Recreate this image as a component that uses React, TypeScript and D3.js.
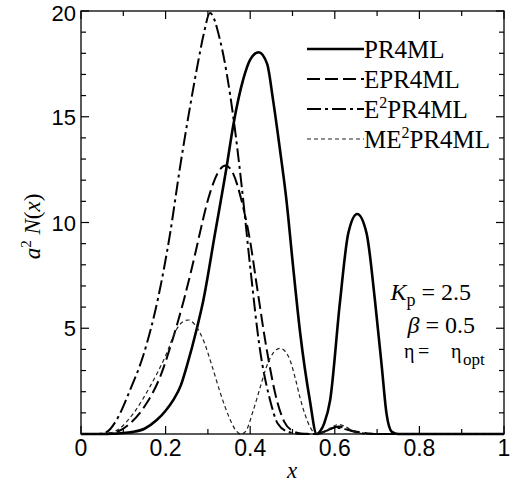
import React from 'react';
import * as d3 from 'd3';

// ---- data ----
const pr4X = [0, 0.05, 0.1, 0.124, 0.15, 0.179, 0.2, 0.218, 0.236, 0.25, 0.274, 0.289, 0.317, 0.344, 0.36, 0.384, 0.4, 0.42, 0.44, 0.454, 0.47, 0.486, 0.5, 0.518, 0.541, 0.557, 0.565, 0.575, 0.589, 0.612, 0.632, 0.653, 0.675, 0.695, 0.711, 0.722, 0.735, 0.75, 1];
const pr4Y = [0, 0, 0.05, 0.1, 0.25, 0.66, 1.1, 1.6, 2.3, 3.2, 5.0, 6.3, 9.5, 12.6, 14.6, 16.8, 17.7, 18.05, 17.5, 15.8, 13.5, 11.0, 8.2, 4.8, 1.6, 0, 0.12, 0.5, 1.6, 6.2, 9.5, 10.4, 9.5, 6.3, 3.2, 1.0, 0.1, 0, 0];

const epr4X = [0, 0.05, 0.084, 0.116, 0.155, 0.187, 0.214, 0.244, 0.272, 0.281, 0.305, 0.325, 0.342, 0.36, 0.38, 0.4, 0.415, 0.439, 0.463, 0.48, 0.5, 0.52, 0.56, 0.585, 0.61, 0.64, 0.67, 0.7, 1];
const epr4Y = [0, 0, 0.1, 0.5, 1.45, 2.7, 4.3, 6.4, 8.7, 9.5, 11.4, 12.4, 12.7, 12.3, 11.0, 9.1, 7.1, 4.0, 1.6, 0.6, 0.15, 0.02, 0, 0.2, 0.35, 0.15, 0.05, 0, 0];

const e2pr4X = [0, 0.04, 0.061, 0.084, 0.116, 0.147, 0.183, 0.21, 0.234, 0.258, 0.277, 0.29, 0.305, 0.329, 0.36, 0.38, 0.4, 0.423, 0.447, 0.465, 0.49, 0.52, 0.55, 0.58, 0.6, 0.63, 0.66, 0.7, 1];
const e2pr4Y = [0, 0, 0.1, 0.66, 2.08, 3.7, 6.5, 9.4, 12.6, 15.5, 17.6, 18.9, 19.9, 18.6, 15.0, 11.7, 7.9, 4.0, 1.6, 0.5, 0.1, 0, 0, 0.15, 0.3, 0.2, 0.05, 0, 0];

const me2pr4X = [0, 0.05, 0.07, 0.092, 0.124, 0.163, 0.2, 0.226, 0.24, 0.254, 0.27, 0.29, 0.31, 0.33, 0.35, 0.365, 0.378, 0.39, 0.407, 0.425, 0.439, 0.455, 0.47, 0.483, 0.494, 0.507, 0.518, 0.53, 0.541, 0.557, 0.575, 0.595, 0.61, 0.625, 0.645, 0.665, 0.68, 1];
const me2pr4Y = [0, 0, 0.05, 0.27, 0.98, 2.24, 3.7, 4.95, 5.3, 5.39, 5.15, 4.4, 3.2, 1.9, 0.8, 0.2, 0, 0.15, 1.1, 2.3, 3.2, 3.85, 4.05, 3.9, 3.5, 2.6, 1.7, 0.9, 0.35, 0, 0.1, 0.35, 0.45, 0.35, 0.12, 0.02, 0, 0];

const xMajorTicks = [0, 0.2, 0.4, 0.6, 0.8, 1];
const xTickLabels = ['0', '0.2', '0.4', '0.6', '0.8', '1'];
const xMinorTicks = [0.1, 0.3, 0.5, 0.7, 0.9];
const yMajorTicks = [5, 10, 15, 20];
const yTickLabels = ['5', '10', '15', '20'];
const yMinorTicks = [1, 2, 3, 4, 6, 7, 8, 9, 11, 12, 13, 14, 16, 17, 18, 19];

const seriesNames = ['PR4ML', 'EPR4ML', 'E2PR4ML', 'ME2PR4ML'];

export default function App() {
  const W = 517, H = 483;
  const L = 81, R = 504, T = 11, B = 434;
  const x = d3.scaleLinear().domain([0, 1]).range([L, R]);
  const y = d3.scaleLinear().domain([0, 20]).range([B, T]);
  const line = d3.line<[number, number]>().x(d => x(d[0])).y(d => y(d[1])).curve(d3.curveMonotoneX);

  const series = [
    { name: seriesNames[0], xs: pr4X, ys: pr4Y, w: 2.6, dash: '', color: '#000' },
    { name: seriesNames[1], xs: epr4X, ys: epr4Y, w: 2, dash: '13,5', color: '#000' },
    { name: seriesNames[2], xs: e2pr4X, ys: e2pr4Y, w: 2, dash: '14,4,3,4', color: '#000' },
    { name: seriesNames[3], xs: me2pr4X, ys: me2pr4Y, w: 1.2, dash: '4,3', color: '#222' },
  ];

  const sans = "'Liberation Sans', Arial, sans-serif";
  const serif = "'Liberation Serif', 'Times New Roman', serif";
  const majLen = 8, minLen = 5;

  const legendLabel = (i: number) => {
    if (i === 0) return <tspan>PR4ML</tspan>;
    if (i === 1) return <tspan>EPR4ML</tspan>;
    if (i === 2) return <>E<tspan dy={-10} fontSize={16}>2</tspan><tspan dy={10}>PR4ML</tspan></>;
    return <>ME<tspan dy={-10} fontSize={16}>2</tspan><tspan dy={10}>PR4ML</tspan></>;
  };

  return (
    <svg width={W} height={H} style={{ position: 'absolute', left: 0, top: 0, background: '#fff' }}>
      <rect x={0} y={0} width={W} height={H} fill="#fff" />
      {/* curves */}
      {series.map(s => (
        <path key={s.name} d={line(s.xs.map((v, i) => [v, s.ys[i]] as [number, number])) || ''}
          fill="none" stroke={s.color} strokeWidth={s.w} strokeDasharray={s.dash || undefined}
          strokeLinejoin="round" />
      ))}
      {/* frame */}
      <rect x={L} y={T} width={R - L} height={B - T} fill="none" stroke="#000" strokeWidth={1.3} />
      {/* ticks */}
      {xMajorTicks.map(t => (
        <g key={'xm' + t}>
          <line x1={x(t)} x2={x(t)} y1={B} y2={B - majLen} stroke="#000" strokeWidth={1.2} />
          <line x1={x(t)} x2={x(t)} y1={T} y2={T + majLen} stroke="#000" strokeWidth={1.2} />
        </g>
      ))}
      {xMinorTicks.map(t => (
        <g key={'xn' + t}>
          <line x1={x(t)} x2={x(t)} y1={B} y2={B - minLen} stroke="#000" strokeWidth={1.2} />
          <line x1={x(t)} x2={x(t)} y1={T} y2={T + minLen} stroke="#000" strokeWidth={1.2} />
        </g>
      ))}
      {yMajorTicks.map(t => (
        <g key={'ym' + t}>
          <line x1={L} x2={L + majLen} y1={y(t)} y2={y(t)} stroke="#000" strokeWidth={1.2} />
          <line x1={R} x2={R - majLen} y1={y(t)} y2={y(t)} stroke="#000" strokeWidth={1.2} />
        </g>
      ))}
      {yMinorTicks.map(t => (
        <g key={'yn' + t}>
          <line x1={L} x2={L + minLen} y1={y(t)} y2={y(t)} stroke="#000" strokeWidth={1.2} />
          <line x1={R} x2={R - minLen} y1={y(t)} y2={y(t)} stroke="#000" strokeWidth={1.2} />
        </g>
      ))}
      {/* tick labels */}
      {xMajorTicks.map((t, i) => (
        <text key={'xl' + t} x={x(t)} y={456} textAnchor="middle" fontFamily={sans} fontSize={23}>{xTickLabels[i]}</text>
      ))}
      {yMajorTicks.map((t, i) => (
        <text key={'yl' + t} x={76} y={Math.max(y(t) + 8, 21)} textAnchor="end" fontFamily={sans} fontSize={22}>{yTickLabels[i]}</text>
      ))}
      {/* axis titles */}
      <text x={292} y={478} textAnchor="middle" fontFamily={serif} fontStyle="italic" fontSize={23}>x</text>
      <text transform={`translate(40,${(T + B) / 2 + 4}) rotate(-90)`} textAnchor="middle" fontFamily={serif} fontSize={23}>
        <tspan fontStyle="italic">a</tspan><tspan dy={-9} fontSize={15}>2</tspan><tspan dy={9}> </tspan><tspan fontStyle="italic">N</tspan>(<tspan fontStyle="italic">x</tspan>)
      </text>
      {/* legend */}
      {series.map((s, i) => (
        <g key={'lg' + s.name}>
          <line x1={307} x2={364} y1={49 + 30 * i} y2={49 + 30 * i} stroke={s.color} strokeWidth={s.w} strokeDasharray={s.dash || undefined} />
          <text x={364} y={58 + 30 * i} fontFamily={serif} fontSize={25}>{legendLabel(i)}</text>
        </g>
      ))}
      {/* annotation */}
      <text x={471} y={300} textAnchor="end" fontFamily={serif} fontSize={24}>
        <tspan fontStyle="italic">K</tspan><tspan dy={6} fontSize={18}>p</tspan><tspan dy={-6}> = 2.5</tspan>
      </text>
      <text x={475} y={333} textAnchor="end" fontFamily={serif} fontSize={24}>
        <tspan fontStyle="italic">β</tspan> = 0.5
      </text>
      <text x={404} y={358} fontFamily={serif} fontSize={20}>η</text>
      <text x={418} y={358} fontFamily={serif} fontSize={20}>=</text>
      <text x={451} y={358} fontFamily={serif} fontSize={20}>η</text>
      <text x={463} y={365} fontFamily={serif} fontSize={17}>opt</text>
    </svg>
  );
}
